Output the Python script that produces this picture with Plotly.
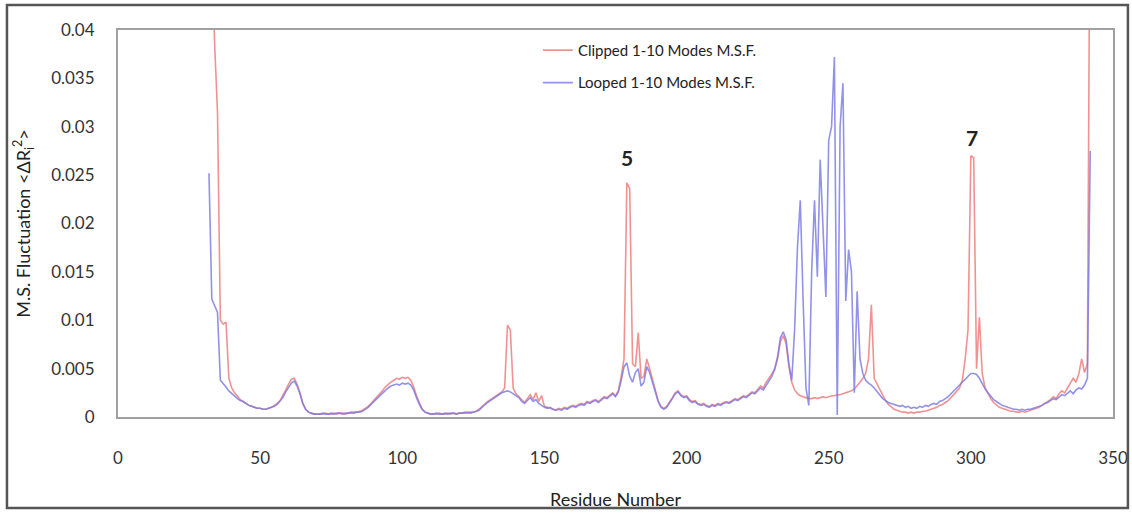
import plotly.graph_objects as go

# Residue numbers covered by both models
residues = list(range(32, 343))

# Mean-square fluctuation, first 10 modes, clipped model
clipped_msf = [
    0.0600, 0.0480, 0.0385, 0.0315, 0.0100, 0.0096, 0.0098, 0.0040, 0.0030, 0.0025,
    0.0021, 0.0018, 0.0016, 0.0014, 0.0012, 0.0011, 0.0010, 0.0009, 0.0009, 0.0008,
    0.0008, 0.0009, 0.0010, 0.0012, 0.0014, 0.0017, 0.0022, 0.0028, 0.0034, 0.0039,
    0.0040, 0.0034, 0.0025, 0.0014, 0.0008, 0.0005, 0.0004, 0.0003, 0.0003, 0.0003,
    0.0003, 0.0004, 0.0003, 0.0003, 0.0004, 0.0003, 0.0004, 0.0004, 0.0003, 0.0004,
    0.0004, 0.0005, 0.0005, 0.0006, 0.0007, 0.0009, 0.0011, 0.0014, 0.0017, 0.0020,
    0.0024, 0.0027, 0.0031, 0.0034, 0.0036, 0.0038, 0.0040, 0.0039, 0.0041, 0.0040,
    0.0041, 0.0038, 0.0031, 0.0022, 0.0014, 0.0008, 0.0005, 0.0004, 0.0003, 0.0003,
    0.0003, 0.0004, 0.0003, 0.0003, 0.0004, 0.0003, 0.0004, 0.0003, 0.0004, 0.0004,
    0.0005, 0.0004, 0.0005, 0.0005, 0.0006, 0.0008, 0.0011, 0.0014, 0.0016, 0.0018,
    0.0020, 0.0022, 0.0024, 0.0026, 0.0030, 0.0095, 0.0090, 0.0030, 0.0024, 0.0021,
    0.0017, 0.0015, 0.0019, 0.0023, 0.0018, 0.0025, 0.0016, 0.0022, 0.0011, 0.0010,
    0.0009, 0.0008, 0.0007, 0.0009, 0.0008, 0.0010, 0.0009, 0.0011, 0.0012, 0.0011,
    0.0013, 0.0014, 0.0013, 0.0016, 0.0015, 0.0017, 0.0018, 0.0016, 0.0019, 0.0021,
    0.0020, 0.0023, 0.0025, 0.0022, 0.0027, 0.0042, 0.0060, 0.0242, 0.0236, 0.0055,
    0.0052, 0.0087, 0.0040, 0.0042, 0.0060, 0.0050, 0.0038, 0.0027, 0.0017, 0.0011,
    0.0009, 0.0011, 0.0015, 0.0020, 0.0025, 0.0027, 0.0023, 0.0021, 0.0022, 0.0018,
    0.0016, 0.0017, 0.0014, 0.0013, 0.0014, 0.0012, 0.0011, 0.0013, 0.0012, 0.0014,
    0.0013, 0.0015, 0.0016, 0.0015, 0.0017, 0.0019, 0.0018, 0.0020, 0.0022, 0.0021,
    0.0024, 0.0026, 0.0025, 0.0029, 0.0032, 0.0030, 0.0036, 0.0040, 0.0044, 0.0049,
    0.0060, 0.0078, 0.0084, 0.0076, 0.0052, 0.0036, 0.0028, 0.0024, 0.0022, 0.0021,
    0.0020, 0.0019, 0.0019, 0.0020, 0.0019, 0.0020, 0.0021, 0.0020, 0.0021, 0.0022,
    0.0022, 0.0023, 0.0023, 0.0024, 0.0025, 0.0026, 0.0027, 0.0029, 0.0032, 0.0036,
    0.0040, 0.0045, 0.0060, 0.0116, 0.0040, 0.0034, 0.0028, 0.0022, 0.0017, 0.0013,
    0.0010, 0.0008, 0.0007, 0.0006, 0.0005, 0.0005, 0.0004, 0.0005, 0.0004, 0.0005,
    0.0005, 0.0006, 0.0006, 0.0007, 0.0008, 0.0009, 0.0010, 0.0012, 0.0013, 0.0015,
    0.0017, 0.0020, 0.0023, 0.0026, 0.0030, 0.0038, 0.0060, 0.0090, 0.0270, 0.0268,
    0.0050, 0.0103, 0.0045, 0.0030, 0.0024, 0.0019, 0.0015, 0.0012, 0.0010, 0.0009,
    0.0008, 0.0007, 0.0006, 0.0006, 0.0005, 0.0005, 0.0006, 0.0005, 0.0006, 0.0007,
    0.0008, 0.0009, 0.0010, 0.0012, 0.0014, 0.0016, 0.0018, 0.0021, 0.0019, 0.0024,
    0.0027, 0.0025, 0.0030, 0.0034, 0.0040, 0.0036, 0.0045, 0.0060, 0.0046, 0.0055,
    0.0600,
]

# Mean-square fluctuation, first 10 modes, looped model
looped_msf = [
    0.0252, 0.0122, 0.0115, 0.0108, 0.0038, 0.0035, 0.0031, 0.0027, 0.0024, 0.0022,
    0.0019, 0.0017, 0.0016, 0.0014, 0.0012, 0.0011, 0.0010, 0.0009, 0.0009, 0.0008,
    0.0008, 0.0009, 0.0010, 0.0011, 0.0013, 0.0016, 0.0020, 0.0026, 0.0031, 0.0035,
    0.0037, 0.0032, 0.0024, 0.0014, 0.0008, 0.0005, 0.0004, 0.0003, 0.0003, 0.0003,
    0.0004, 0.0003, 0.0003, 0.0004, 0.0003, 0.0004, 0.0004, 0.0003, 0.0004, 0.0004,
    0.0005, 0.0004, 0.0005, 0.0005, 0.0006, 0.0008, 0.0010, 0.0013, 0.0016, 0.0019,
    0.0022, 0.0025, 0.0028, 0.0030, 0.0032, 0.0033, 0.0034, 0.0033, 0.0035, 0.0034,
    0.0035, 0.0033, 0.0028, 0.0020, 0.0013, 0.0008, 0.0005, 0.0004, 0.0003, 0.0003,
    0.0004, 0.0003, 0.0003, 0.0004, 0.0003, 0.0004, 0.0004, 0.0003, 0.0004, 0.0004,
    0.0004, 0.0005, 0.0004, 0.0005, 0.0006, 0.0007, 0.0010, 0.0013, 0.0015, 0.0017,
    0.0019, 0.0021, 0.0023, 0.0025, 0.0026, 0.0027, 0.0026, 0.0024, 0.0022, 0.0020,
    0.0016, 0.0014, 0.0017, 0.0020, 0.0016, 0.0018, 0.0014, 0.0012, 0.0010, 0.0009,
    0.0010, 0.0008, 0.0007, 0.0008, 0.0007, 0.0009, 0.0008, 0.0010, 0.0011, 0.0010,
    0.0012, 0.0013, 0.0012, 0.0015, 0.0014, 0.0016, 0.0017, 0.0015, 0.0018, 0.0020,
    0.0019, 0.0022, 0.0024, 0.0021, 0.0026, 0.0038, 0.0052, 0.0056, 0.0042, 0.0036,
    0.0046, 0.0050, 0.0032, 0.0036, 0.0052, 0.0046, 0.0036, 0.0026, 0.0016, 0.0010,
    0.0008, 0.0010, 0.0014, 0.0019, 0.0024, 0.0026, 0.0022, 0.0020, 0.0021, 0.0017,
    0.0015, 0.0016, 0.0013, 0.0012, 0.0013, 0.0011, 0.0010, 0.0012, 0.0011, 0.0013,
    0.0012, 0.0014, 0.0015, 0.0014, 0.0016, 0.0018, 0.0017, 0.0019, 0.0021, 0.0020,
    0.0023, 0.0025, 0.0024, 0.0027, 0.0030, 0.0028, 0.0033, 0.0037, 0.0042, 0.0050,
    0.0062, 0.0082, 0.0088, 0.0080, 0.0055, 0.0038, 0.0090, 0.0175, 0.0224, 0.0120,
    0.0030, 0.0012, 0.0150, 0.0224, 0.0145, 0.0266, 0.0200, 0.0124, 0.0286, 0.0300,
    0.0372, 0.0002, 0.0300, 0.0345, 0.0120, 0.0173, 0.0150, 0.0025, 0.0130, 0.0060,
    0.0045, 0.0038, 0.0035, 0.0033, 0.0030, 0.0026, 0.0022, 0.0019, 0.0017, 0.0015,
    0.0014, 0.0013, 0.0012, 0.0011, 0.0012, 0.0010, 0.0011, 0.0009, 0.0010, 0.0009,
    0.0011, 0.0010, 0.0012, 0.0011, 0.0013, 0.0014, 0.0013, 0.0016, 0.0017, 0.0019,
    0.0021, 0.0024, 0.0027, 0.0030, 0.0033, 0.0037, 0.0040, 0.0043, 0.0045, 0.0045,
    0.0044, 0.0040, 0.0034, 0.0029, 0.0025, 0.0021, 0.0018, 0.0016, 0.0014, 0.0012,
    0.0011, 0.0010, 0.0009, 0.0008, 0.0008, 0.0007, 0.0008, 0.0007, 0.0008, 0.0008,
    0.0009, 0.0010, 0.0011, 0.0012, 0.0014, 0.0015, 0.0017, 0.0019, 0.0018, 0.0021,
    0.0023, 0.0022, 0.0025, 0.0027, 0.0024, 0.0028, 0.0030, 0.0029, 0.0033, 0.0040,
    0.0275,
]

# Labelled peaks: (residue, height of label, text)
peak_labels = [(179, 0.0268, "5"), (300.5, 0.0289, "7")]

x_ticks = [0, 50, 100, 150, 200, 250, 300, 350]
y_ticks = [0, 0.005, 0.01, 0.015, 0.02, 0.025, 0.03, 0.035, 0.04]
y_tick_text = ["0", "0.005", "0.01", "0.015", "0.02", "0.025", "0.03", "0.035", "0.04"]

FONT = "Lato, 'Open Sans', sans-serif"

fig = go.Figure()
fig.add_trace(go.Scatter(
    x=residues, y=clipped_msf, mode="lines",
    name="Clipped 1-10 Modes M.S.F.", legendgroup="clipped",
    line=dict(color="rgb(238,120,120)", width=1.6), opacity=0.8,
))
fig.add_trace(go.Scatter(
    x=residues, y=looped_msf, mode="lines",
    name="Looped 1-10 Modes M.S.F.", legendgroup="looped",
    line=dict(color="rgb(120,120,228)", width=1.6), opacity=0.8,
))

for rx, ry, txt in peak_labels:
    fig.add_annotation(x=rx, y=ry, text=f"<b>{txt}</b>", showarrow=False,
                       font=dict(size=21, color="#222", family=FONT))

# outer chart frame
fig.add_shape(type="rect", xref="paper", yref="paper",
              x0=-0.1116, x1=1.0150, y0=-0.235, y1=1.0646,
              line=dict(color="#555", width=2.5), fillcolor="rgba(0,0,0,0)")

fig.update_layout(
    width=1132, height=513,
    margin=dict(l=118, r=19, t=30, b=96, autoexpand=False),
    paper_bgcolor="white", plot_bgcolor="white",
    font=dict(family=FONT, size=15, color="#333"),
    showlegend=True,
    legend=dict(x=0.422, y=0.99, xanchor="left", yanchor="top",
                bgcolor="rgba(255,255,255,0)", font=dict(size=15, color="#222"),
                tracegroupgap=10, itemwidth=30),
)
fig.update_xaxes(
    range=[0, 350], tickvals=x_ticks, showgrid=False, zeroline=False,
    showline=True, linecolor="#a0a0a0", linewidth=2, mirror=True, automargin=False,
    ticks="", ticklabelstandoff=25, tickfont=dict(size=17, color="#333"),
    title=dict(text="Residue Number", font=dict(size=18, color="#222"), standoff=26),
)
fig.update_yaxes(
    range=[0, 0.04], tickvals=y_ticks, ticktext=y_tick_text, showgrid=False,
    zeroline=False, showline=True, linecolor="#a0a0a0", linewidth=2, mirror=True,
    automargin=False,
    ticks="", ticklabelstandoff=18, tickfont=dict(size=17, color="#333"),
    title=dict(text="M.S. Fluctuation &lt;ΔR<sub>i</sub><sup>2</sup>&gt;",
               font=dict(size=18, color="#222"), standoff=16),
)

fig.write_html("out.html")
